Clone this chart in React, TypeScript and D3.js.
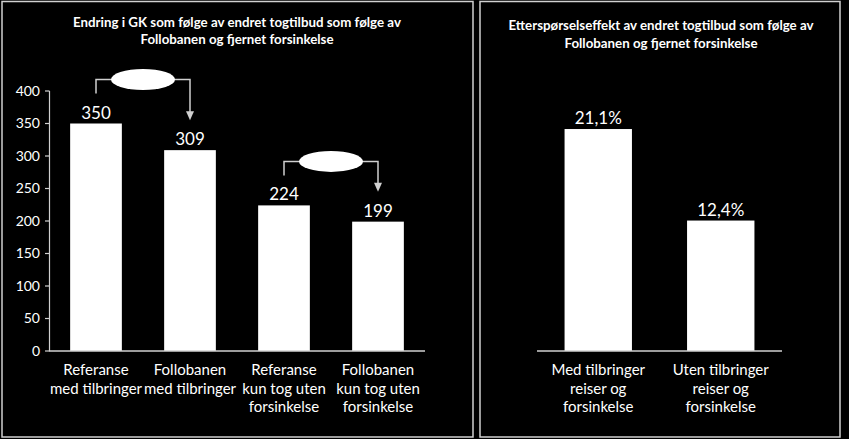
import React from 'react';
import * as d3 from 'd3';

// data
const leftCategories = [
  ['Referanse', 'med tilbringer'],
  ['Follobanen', 'med tilbringer'],
  ['Referanse', 'kun tog uten', 'forsinkelse'],
  ['Follobanen', 'kun tog uten', 'forsinkelse'],
];
const leftValues = [350, 309, 224, 199];
const leftTicks = [0, 50, 100, 150, 200, 250, 300, 350, 400];
// pairs connected with a bracket arrow
const leftPairs = [[0, 1], [2, 3]];

const rightCategories = [
  ['Med tilbringer', 'reiser og', 'forsinkelse'],
  ['Uten tilbringer', 'reiser og', 'forsinkelse'],
];
const rightValues = [21.1, 12.4];
const rightLabels = ['21,1%', '12,4%'];

const leftTitle = ['Endring i GK som følge av endret togtilbud som følge av', 'Follobanen og fjernet forsinkelse'];
const rightTitle = ['Etterspørselseffekt av endret togtilbud som følge av', 'Follobanen og fjernet forsinkelse'];

const W = 849;
const H = 439;
const FONT = 'Lato, "Open Sans", sans-serif';
const LINE = '#d0d0d0';

export default function App() {
  // left chart scales
  const xl = d3.scaleBand<number>()
    .domain(leftValues.map((_, i) => i))
    .range([49, 425])
    .paddingInner(0.45)
    .paddingOuter(0.225);
  const yl = d3.scaleLinear().domain([0, 400]).range([351, 91]);

  // right chart scales
  const xr = d3.scaleBand<number>()
    .domain(rightValues.map((_, i) => i))
    .range([537, 782])
    .paddingInner(0.45)
    .paddingOuter(0.225);
  const yr = d3.scaleLinear().domain([0, 25]).range([351, 88]);

  const catLabel = (lines: string[], cx: number, key: string) => (
    <text key={key} x={cx} y={375} textAnchor="middle" fill="#fff" fontSize={15} fontFamily={FONT}>
      {lines.map((l, j) => (
        <tspan key={j} x={cx} dy={j === 0 ? 0 : 18.5}>{l}</tspan>
      ))}
    </text>
  );

  return (
    <svg width={W} height={H} style={{ position: 'absolute', left: 0, top: 0, background: '#000' }}>
      <rect x={0} y={0} width={W} height={H} fill="#000" />

      {/* panel frames */}
      <rect x={2} y={1.5} width={471} height={435.5} fill="none" stroke={LINE} strokeWidth={1.5} />
      <rect x={480} y={1.5} width={360} height={435.5} fill="none" stroke={LINE} strokeWidth={1.5} />

      {/* titles */}
      {leftTitle.map((t, i) => (
        <text key={'lt' + i} x={237} y={27 + i * 17} textAnchor="middle" fill="#fff" fontWeight="bold" fontSize={13.3} fontFamily={FONT}>{t}</text>
      ))}
      {rightTitle.map((t, i) => (
        <text key={'rt' + i} x={661} y={30 + i * 17.5} textAnchor="middle" fill="#fff" fontWeight="bold" fontSize={13.3} fontFamily={FONT}>{t}</text>
      ))}

      {/* left y axis */}
      <line x1={49.5} x2={49.5} y1={yl(400)} y2={yl(0)} stroke={LINE} strokeWidth={1.2} />
      {leftTicks.map((t) => (
        <g key={'tk' + t}>
          <line x1={45} x2={49.5} y1={yl(t)} y2={yl(t)} stroke={LINE} strokeWidth={1.2} />
          <text x={40} y={yl(t)} dy="0.35em" textAnchor="end" fill="#fff" fontSize={14} fontFamily={FONT}>{t}</text>
        </g>
      ))}

      {/* left bars */}
      {leftValues.map((v, i) => (
        <g key={'lb' + i}>
          <rect x={xl(i)} y={yl(v)} width={xl.bandwidth()} height={yl(0) - yl(v)} fill="#fff" />
          <text x={xl(i)! + xl.bandwidth() / 2} y={yl(v) - 5} textAnchor="middle" fill="#fff" fontSize={17} fontFamily={FONT}>{v}</text>
        </g>
      ))}
      <line x1={49} x2={425} y1={yl(0)} y2={yl(0)} stroke={LINE} strokeWidth={1.5} />
      {leftCategories.map((c, i) => catLabel(c, xl(i)! + xl.bandwidth() / 2, 'lc' + i))}

      {/* bracket arrows with ellipse */}
      {leftPairs.map(([a, b], k) => {
        const xa = xl(a)! + xl.bandwidth() / 2;
        const xb = xl(b)! + xl.bandwidth() / 2;
        const yTop = yl(leftValues[a]) - 44;
        const yStart = yl(leftValues[a]) - 30;
        const yTip = yl(leftValues[b]) - 30;
        return (
          <g key={'br' + k}>
            <path d={`M${xa},${yStart}V${yTop}H${xb}V${yTip - 8}`} fill="none" stroke={LINE} strokeWidth={1.5} />
            <path d={`M${xb - 4},${yTip - 9}L${xb + 4},${yTip - 9}L${xb},${yTip}Z`} fill={LINE} />
            <ellipse cx={(xa + xb) / 2} cy={yTop} rx={32} ry={10.5} fill="#fff" />
          </g>
        );
      })}

      {/* right bars */}
      {rightValues.map((v, i) => (
        <g key={'rb' + i}>
          <rect x={xr(i)} y={yr(v)} width={xr.bandwidth()} height={yr(0) - yr(v)} fill="#fff" />
          <text x={xr(i)! + xr.bandwidth() / 2} y={yr(v) - 5} textAnchor="middle" fill="#fff" fontSize={17} fontFamily={FONT}>{rightLabels[i]}</text>
        </g>
      ))}
      <line x1={537} x2={782} y1={yr(0)} y2={yr(0)} stroke={LINE} strokeWidth={1.5} />
      {rightCategories.map((c, i) => catLabel(c, xr(i)! + xr.bandwidth() / 2, 'rc' + i))}
    </svg>
  );
}
